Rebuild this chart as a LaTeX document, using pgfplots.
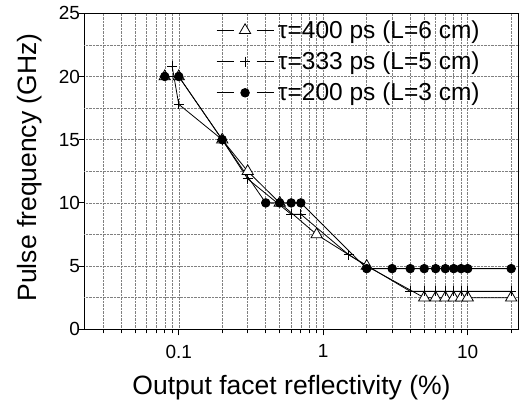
\documentclass[border=0pt]{standalone}
\usepackage{fontspec}
\setmainfont{Liberation Sans}
\usepackage{pgfplots}
\pgfplotsset{compat=1.18}

% Origin-like legend sample: line, gap, marker, gap, line
\pgfplotsset{
  gapline/.style={legend image code/.code={
    \draw[##1,mark=none] (0pt,0pt) -- (17pt,0pt);
    \draw[##1,mark=none] (40pt,0pt) -- (57pt,0pt);
    \draw[##1,only marks] plot coordinates {(28.5pt,0pt)};
  }},
}

\begin{document}
\begin{tikzpicture}
\begin{axis}[
  name=ax,
  scale only axis, width=434pt, height=316pt,
  xmode=log, xmin=0.02226, xmax=22.47, ymin=0, ymax=25,
  xtick={0.1,1,10}, xticklabels={0.1,1,10},
  minor xtick={0.03,0.04,0.05,0.06,0.07,0.08,0.09,0.2,0.3,0.4,0.5,0.6,0.7,0.8,0.9,2,3,4,5,6,7,8,9,20},
  ytick={0,5,10,15,20,25},
  extra y ticks={2.5,7.5,12.5,17.5,22.5}, extra y tick labels={},
  extra y tick style={major tick length=0pt, grid=major},
  grid=both,
  major grid style={densely dotted, black!50, line width=0.5pt},
  minor grid style={densely dotted, black!50, line width=0.5pt},
  tick align=outside, xtick pos=bottom, ytick pos=left,
  major tick length=6pt, minor tick length=4pt,
  every tick/.style={black, line width=0.8pt},
  axis line style={line width=1pt},
  ticklabel style={font=\fontsize{19}{19}\selectfont},
  xticklabel style={yshift=-6pt},
  yticklabel style={xshift=5pt},
  /pgf/number format/assume math mode=true,
  xlabel={Output facet reflectivity (\%)},
  ylabel={Pulse frequency (GHz)},
  label style={font=\fontsize{26.5}{26.5}\selectfont},
  xlabel style={at={(axis description cs:0.477,-0.206)}, anchor=base},
  ylabel style={at={(axis description cs:-0.11,0.512)}, anchor=base},
  legend style={draw=none, fill=none, at={(axis description cs:0.296,0.99)},
    anchor=north west, font=\fontsize{24.5}{24.5}\selectfont, row sep=8pt,
    nodes={inner xsep=4pt}},
  legend cell align=left,
  every axis plot/.append style={black, line width=0.8pt, gapline},
]
\addplot[mark=triangle*, mark size=6.5pt, mark options={fill=white}]
  coordinates {(0.08,20) (0.1,20) (0.2,15) (0.3,12.5) (0.5,10) (0.9,7.5) (2,5)
  (5,2.5) (6,2.5) (7,2.5) (8,2.5) (9,2.5) (10,2.5) (20,2.5)};
\addlegendentry{τ=400 ps (L=6 cm)}
\addplot[mark=+, mark size=5pt]
  coordinates {(0.09,20.8) (0.1,17.8) (0.2,15) (0.3,11.9) (0.6,9.1) (0.7,9.1) (1.5,5.9)
  (4,3) (5,3) (6,3) (7,3) (8,3) (9,3) (10,3) (20,3)};
\addlegendentry{τ=333 ps (L=5 cm)}
\addplot[mark=*, mark size=4.3pt]
  coordinates {(0.08,20) (0.1,20) (0.2,15) (0.4,10) (0.5,10) (0.6,10) (0.7,10)
  (2,4.8) (3,4.8) (4,4.8) (5,4.8) (6,4.8) (7,4.8) (8,4.8) (9,4.8) (10,4.8) (20,4.8)};
\addlegendentry{τ=200 ps (L=3 cm)}
\end{axis}
\pgfresetboundingbox
\path[use as bounding box] ([xshift=-84.5pt,yshift=-73.7pt]ax.south west) rectangle ++(521pt,403pt);
\end{tikzpicture}
\end{document}
